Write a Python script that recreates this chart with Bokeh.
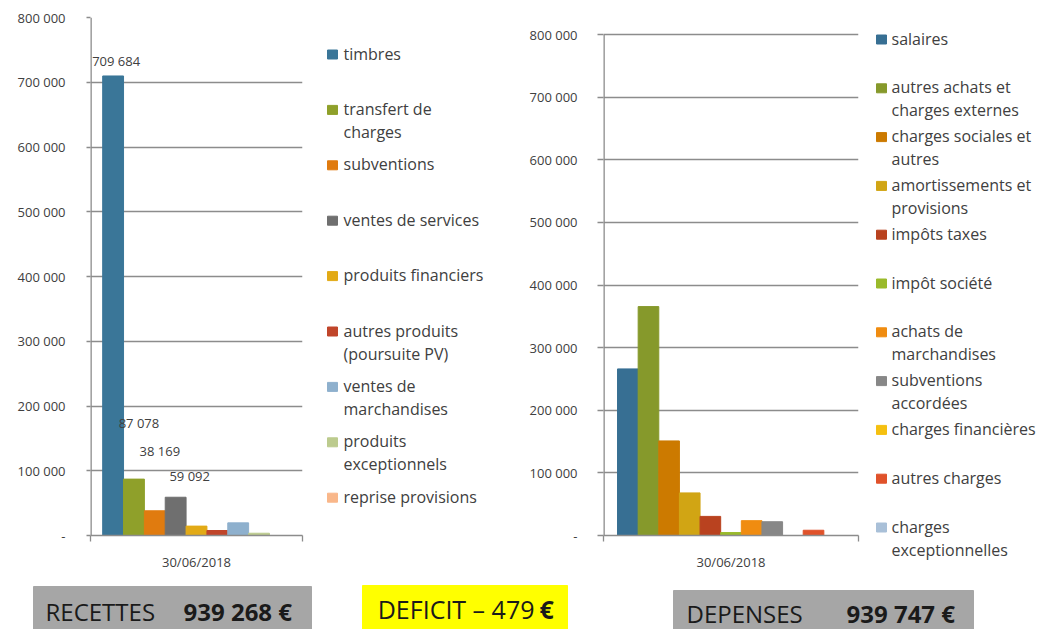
from bokeh.plotting import figure
from bokeh.layouts import column, row
from bokeh.models import Range1d, FixedTicker, ColumnDataSource
from bokeh.embed import file_html
from bokeh.resources import INLINE
from bokeh.core.properties import value

# ---------------- data ----------------
date_label = "30/06/2018"

rec_categories = ["timbres", "transfert de\ncharges", "subventions", "ventes de services",
                  "produits financiers", "autres produits\n(poursuite PV)", "ventes de\nmarchandises",
                  "produits\nexceptionnels", "reprise provisions"]
rec_values = [709684, 87078, 38169, 59092, 14500, 7700, 19500, 3500, 0]
rec_colors = ["#3A7698", "#8FA02A", "#E07B0F", "#6F6F6F", "#E2AA16", "#C0452A",
              "#8EB0CD", "#BCCB8E", "#F9B78A"]
rec_labelled = [True, True, True, True, False, False, False, False, False]

dep_categories = ["salaires", "autres achats et\ncharges externes", "charges sociales et\nautres",
                  "amortissements et\nprovisions", "impôts taxes", "impôt société",
                  "achats de\nmarchandises", "subventions\naccordées", "charges financières",
                  "autres charges", "charges\nexceptionnelles"]
dep_values = [266000, 365500, 151000, 68000, 30500, 4700, 23700, 22000, 0, 8400, 0]
dep_colors = ["#376F93", "#86992B", "#CC7A00", "#D1A514", "#B9421F", "#9ABA2B",
              "#F08C10", "#878787", "#F5C010", "#E0522A", "#A9C0D8"]

y_ticks = [0, 100000, 200000, 300000, 400000, 500000, 600000, 700000, 800000]
y_tick_labels = ["-", "100 000", "200 000", "300 000", "400 000", "500 000",
                 "600 000", "700 000", "800 000"]

total_recettes = 939268
total_depenses = 939747

# ---------------- helpers ----------------
FONT = "Open Sans"
TXT = "#404040"
GRID = "#8C8C8C"
H_TOP = 575      # height of the chart row
H_BOT = 54       # height of the bottom strip
B_TOP = 17       # common top border of the charts
B_BOT = 40       # common bottom border
Y_MAX = 800000


def fmt(v):
    return f"{v:,}".replace(",", " ")


def chart(values, colors, w, bl, br, top_px, tick_out, standoff, span):
    """top_px: screen y where the 800 000 line must sit."""
    frame_h = H_TOP - B_TOP - B_BOT
    y_end = Y_MAX * frame_h / (H_TOP - B_BOT - top_px)
    n = len(values)
    bw = span / n
    start = (1 - span) / 2
    xs = [start + (i + 0.5) * bw for i in range(n)]
    p = figure(width=w, height=H_TOP, x_range=Range1d(0, 1), y_range=Range1d(0, y_end),
               output_backend="svg", toolbar_location=None, title=None,
               min_border_left=bl, min_border_right=br, min_border_top=B_TOP,
               min_border_bottom=B_BOT)
    p.outline_line_color = None
    src = ColumnDataSource(dict(x=xs, top=values, color=colors))
    p.vbar(x="x", top="top", width=bw, bottom=0, color="color", source=src)
    p.xgrid.visible = False
    p.ygrid.grid_line_color = GRID
    p.ygrid.grid_line_width = 1.3
    p.ygrid.ticker = FixedTicker(ticks=y_ticks)
    ya = p.yaxis[0]
    ya.ticker = FixedTicker(ticks=y_ticks)
    ya.major_label_overrides = {t: l for t, l in zip(y_ticks, y_tick_labels)}
    ya.axis_line_color = None
    ya.major_tick_line_color = GRID
    ya.major_tick_line_width = 1.3
    ya.major_tick_out = tick_out
    ya.major_tick_in = 0
    ya.minor_tick_line_color = None
    ya.major_label_standoff = standoff
    ya.major_label_text_font = FONT
    ya.major_label_text_font_size = "13px"
    ya.major_label_text_color = TXT
    # vertical axis line only up to the top tick
    p.segment(x0=[0], y0=[0], x1=[0], y1=[Y_MAX], line_color=GRID, line_width=2.6)
    xa = p.xaxis[0]
    xa.ticker = FixedTicker(ticks=[0.5], minor_ticks=[0, 1])
    xa.major_label_overrides = {0.5: date_label}
    xa.axis_line_color = GRID
    xa.axis_line_width = 1.3
    xa.major_tick_line_color = None
    xa.minor_tick_line_color = GRID
    xa.minor_tick_line_width = 1.3
    xa.minor_tick_out = 6
    xa.minor_tick_in = 0
    xa.major_label_standoff = 11
    xa.major_label_text_font = FONT
    xa.major_label_text_font_size = "13px"
    xa.major_label_text_color = TXT
    return p, xs


def legend_fig(labels, colors, x0, x1, sq_x, txt_x, y_first, step, line_h):
    p = figure(width=x1 - x0, height=H_TOP, x_range=Range1d(x0, x1),
               y_range=Range1d(H_TOP, 0),
               output_backend="svg", toolbar_location=None, title=None,
               min_border=0, x_axis_location=None, y_axis_location=None)
    p.outline_line_color = None
    p.grid.visible = False
    sx, sy, sc, tx, ty, tt = [], [], [], [], [], []
    for i, (lab, c) in enumerate(zip(labels, colors)):
        yy = y_first + i * step
        sx.append(sq_x)
        sy.append(yy + 1)
        sc.append(c)
        for j, line in enumerate(lab.split("\n")):
            tx.append(txt_x)
            ty.append(yy + j * line_h)
            tt.append(line)
    p.rect(x=sx, y=sy, width=10, height=9, color=sc)
    p.text(x=tx, y=ty, text=tt, text_font=value(FONT), text_font_size="16px",
           text_color=TXT, text_align="left", text_baseline="middle")
    return p


# ---------------- recettes ----------------
pl, xl = chart(rec_values, rec_colors, 320, 90, 18, 17, 4, 21, 0.885)
lab_x = [x for x, f in zip(xl, rec_labelled) if f]
lab_y = [v for v, f in zip(rec_values, rec_labelled) if f]
lab_t = [fmt(v) for v, f in zip(rec_values, rec_labelled) if f]
pl.text(x=lab_x, y=lab_y, text=lab_t, x_offset=[3, 5, 5, 14], y_offset=[-15, -56, -60, -21],
        text_font=value(FONT), text_font_size="13px", text_color=TXT,
        text_align="center", text_baseline="middle")
ll = legend_fig(rec_categories, rec_colors, 320, 500, 332, 343, 53, 55.4, 23)

# ---------------- depenses ----------------
pr, xr = chart(dep_values, dep_colors, 370, 103, 12, 34, 6, 20, 0.89)
lr = legend_fig(dep_categories, dep_colors, 870, 1043, 881, 891, 38, 48.8, 23)

# ---------------- bottom boxes ----------------
pb = figure(width=1043, height=H_BOT, x_range=Range1d(0, 1043),
            y_range=Range1d(H_TOP + H_BOT, H_TOP),
            output_backend="svg", toolbar_location=None, min_border=0, title=None,
            x_axis_location=None, y_axis_location=None)
pb.outline_line_color = None
pb.grid.visible = False
pb.quad(left=[33, 673], right=[311, 973], top=[586, 590], bottom=[640, 640], color="#A6A6A6")
pb.quad(left=[362], right=[567], top=[585], bottom=[640], color="#FFFF00")
pb.text(x=[45, 686], y=[611, 613], text=["RECETTES", "DEPENSES"], text_font=value(FONT),
        text_font_size="24px", text_color="#1A1A1A", text_baseline="middle", text_align="left")
pb.text(x=[183, 846], y=[611, 613], text=[fmt(total_recettes) + " €", fmt(total_depenses) + " €"],
        text_font=value(FONT), text_font_size="24px", text_font_style="bold",
        text_color="#1A1A1A", text_baseline="middle", text_align="left")
deficit = total_depenses - total_recettes
pb.text(x=[534], y=[608], text=[f"DEFICIT – {deficit}"], text_font=value(FONT),
        text_font_size="25px", text_color="#1A1A1A", text_baseline="middle", text_align="right")
pb.text(x=[539], y=[608], text=["€"], text_font=value(FONT),
        text_font_size="25px", text_font_style="bold", text_color="#1A1A1A",
        text_baseline="middle", text_align="left")

layout = column(row(pl, column(ll), pr, column(lr)), pb)
open("out.html", "w").write(file_html(layout, INLINE))
